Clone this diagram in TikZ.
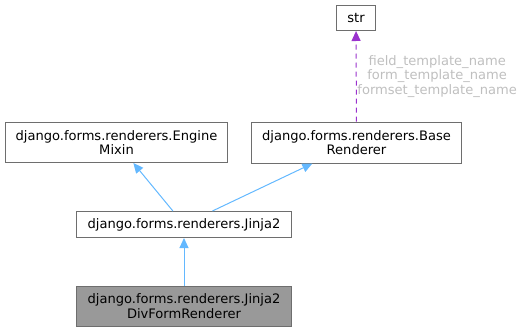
\documentclass[tikz,border=0pt]{standalone}
\usepackage{fontspec}
\setmainfont{DejaVu Sans}
\usetikzlibrary{arrows.meta,positioning}
\definecolor{edgeblue}{HTML}{63B8FF}
\definecolor{usepurple}{HTML}{9A32CD}
\definecolor{boxgrey}{HTML}{6E6E6E}
\tikzstyle{cls} = [rectangle,
                  draw=boxgrey,
                  line width=0.75pt,
                  fill=white,
                  align=center,
                  inner sep=0pt,
                  font=\fontsize{9.8}{11}\selectfont]
\tikzstyle{inherit} = [edgeblue,
                      line width=0.75pt,
                      -{Triangle[length=7.5pt,width=6.75pt]}]
\tikzstyle{uses} = [usepurple,
                   line width=0.75pt,
                   dash pattern=on 3.75pt off 3pt,
                   -{Triangle[length=7.5pt,width=6.75pt]}]

\begin{document}
\begin{tikzpicture}[x=0.75pt,y=-0.75pt]
    \useasboundingbox (0,0) rectangle (523,332);
    \node (str) [cls, minimum width=29pt, minimum height=18.75pt] at (356,18) {str};
    \node (base) [cls, minimum width=158pt, minimum height=30.75pt] at (356.5,142.5)
      {django.forms.renderers.Base\\Renderer};
    \node (engine) [cls, minimum width=167pt, minimum height=30pt] at (116.5,142.5)
      {django.forms.renderers.Engine\\Mixin};
    \node (jinja) [cls, minimum width=161pt, minimum height=19.5pt] at (184,224.5)
      {django.forms.renderers.Jinja2};
    \node (div) [cls, fill=black!40, minimum width=161pt, minimum height=30pt] at (184,306)
      {django.forms.renderers.Jinja2\\DivFormRenderer};
    \path[inherit]
      (div) edge (jinja)
      (jinja) edge (engine)
      (jinja) edge (base);
    \path[uses]
      (base) edge node [anchor=west, inner sep=0.5pt, align=center, text=black!25,
                        font=\fontsize{9.8}{11}\selectfont]
        {field\_template\_name\\form\_template\_name\\formset\_template\_name} (str);
  \end{tikzpicture}
\end{document}
